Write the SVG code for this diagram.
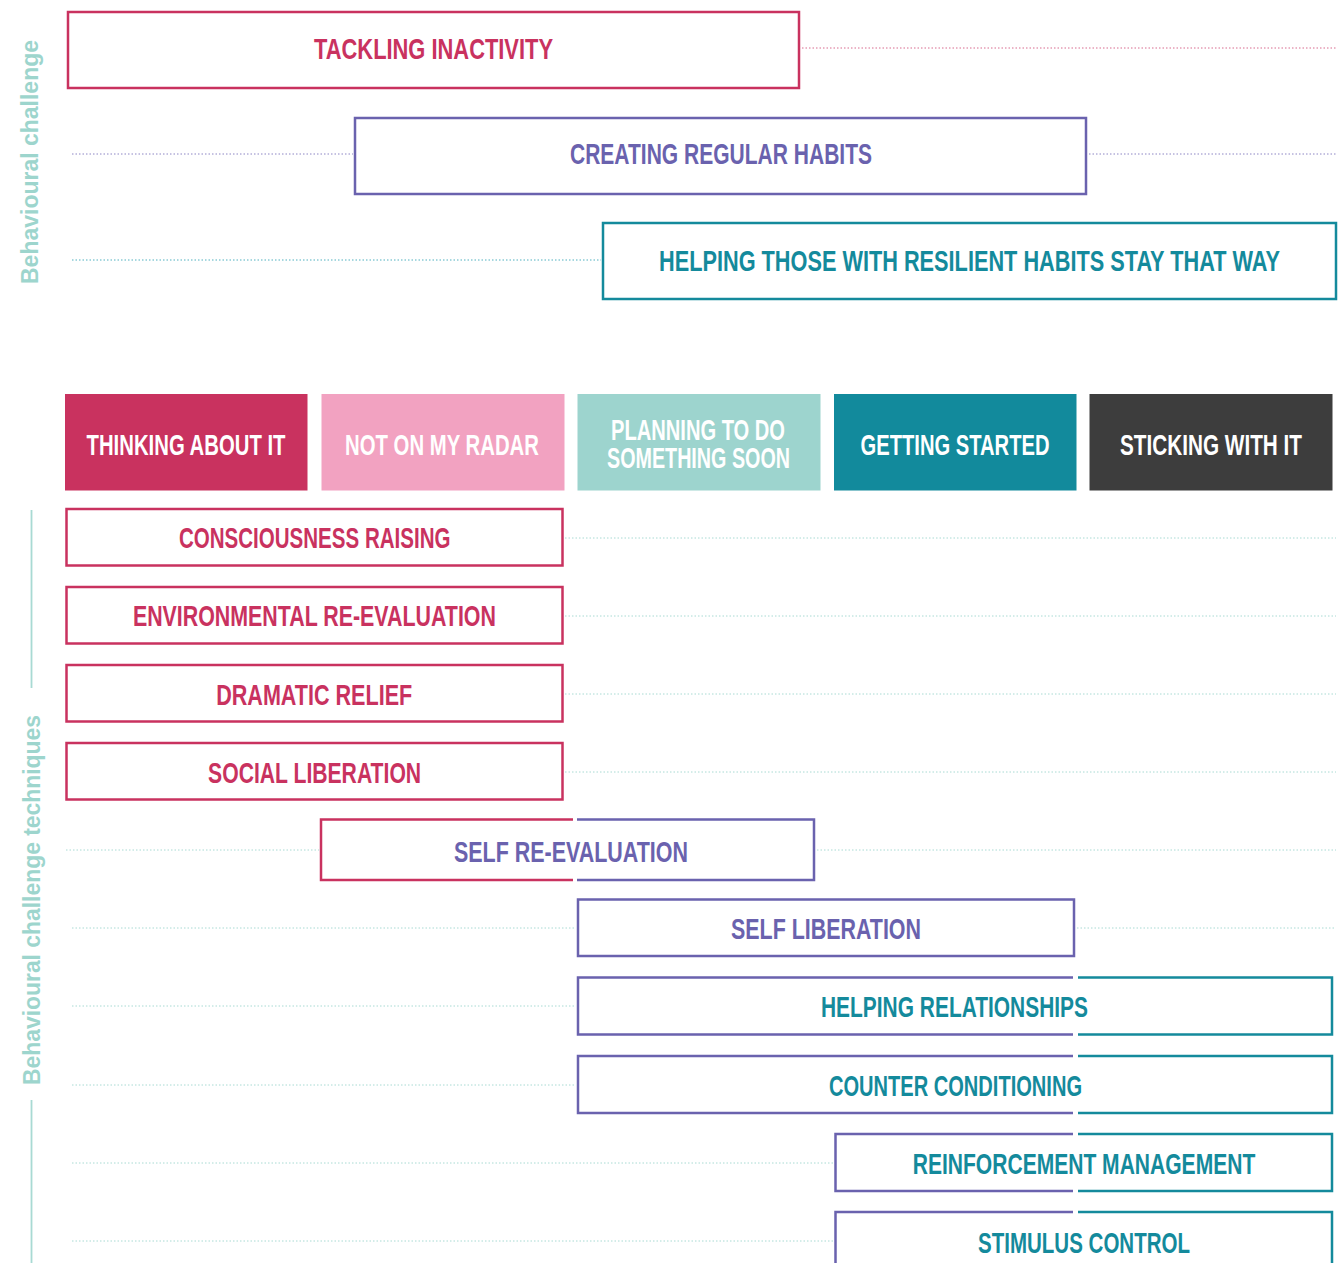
<svg xmlns="http://www.w3.org/2000/svg" width="1341" height="1263" viewBox="0 0 1341 1263">
<style>
.t{font-family:"Liberation Sans",Arial,sans-serif;font-weight:bold;font-size:30px;text-anchor:middle}
.side{font-family:"Liberation Sans",Arial,sans-serif;font-weight:bold;font-size:23px;fill:#9DD5CD;text-anchor:middle}
.box{fill:#fff;stroke-width:2.5}
.pk{stroke:#C9325F}.pu{stroke:#6A62AE}.te{stroke:#148A9C}
.fpk{fill:#C9325F}.fpu{fill:#6A62AE}.fte{fill:#148A9C}.fw{fill:#fff}
.e{fill:none;stroke-width:2.5}
.dot{fill:none;stroke-width:1;stroke-dasharray:1.5 2}
.dl{stroke:#A8DAD3}
</style>
<rect width="1341" height="1263" fill="#fff"/>

<g id="connectors">
<line class="dot" stroke="#D86A8E" x1="802" y1="48" x2="1336" y2="48"/>
<line class="dot" stroke="#8C85C4" x1="72" y1="154" x2="353" y2="154"/>
<line class="dot" stroke="#8C85C4" x1="1089" y1="154" x2="1336" y2="154"/>
<line class="dot" stroke="#4FB0BF" x1="72" y1="260" x2="601" y2="260"/>
<line class="dot dl" x1="565" y1="538" x2="1336" y2="538"/>
<line class="dot dl" x1="565" y1="616" x2="1336" y2="616"/>
<line class="dot dl" x1="565" y1="694" x2="1336" y2="694"/>
<line class="dot dl" x1="565" y1="772" x2="1336" y2="772"/>
<line class="dot dl" x1="66" y1="850" x2="319" y2="850"/>
<line class="dot dl" x1="817" y1="850" x2="1336" y2="850"/>
<line class="dot dl" x1="72" y1="928" x2="576" y2="928"/>
<line class="dot dl" x1="1077" y1="928" x2="1336" y2="928"/>
<line class="dot dl" x1="72" y1="1006" x2="576" y2="1006"/>
<line class="dot dl" x1="72" y1="1085" x2="576" y2="1085"/>
<line class="dot dl" x1="72" y1="1163" x2="834" y2="1163"/>
<line class="dot dl" x1="72" y1="1241" x2="834" y2="1241"/>
<line stroke="#A8DAD3" stroke-width="1.8" x1="31.5" y1="510" x2="31.5" y2="688"/>
<line stroke="#A8DAD3" stroke-width="1.8" x1="31.5" y1="1100" x2="31.5" y2="1263"/>
</g>

<g id="label-challenge">
<text class="side" transform="translate(38,162) rotate(-90)" textLength="244" lengthAdjust="spacingAndGlyphs">Behavioural challenge</text>
</g>
<g id="label-techniques">
<text class="side" transform="translate(40,900) rotate(-90)" textLength="370" lengthAdjust="spacingAndGlyphs">Behavioural challenge techniques</text>
</g>

<g id="tackling-inactivity">
<rect class="box pk" x="68" y="12" width="731" height="76"/>
<text class="t fpk" x="433.5" y="58.5" textLength="239" lengthAdjust="spacingAndGlyphs">TACKLING INACTIVITY</text>
</g>
<g id="creating-regular-habits">
<rect class="box pu" x="355" y="118" width="731" height="76"/>
<text class="t fpu" x="721" y="164" textLength="302" lengthAdjust="spacingAndGlyphs">CREATING REGULAR HABITS</text>
</g>
<g id="helping-resilient">
<rect class="box te" x="603" y="223" width="733" height="76"/>
<text class="t fte" x="969.5" y="271" textLength="621" lengthAdjust="spacingAndGlyphs">HELPING THOSE WITH RESILIENT HABITS STAY THAT WAY</text>
</g>

<g id="stage-thinking">
<rect x="65" y="394" width="242.5" height="96.5" fill="#C9325F"/>
<text class="t fw" x="186" y="455" textLength="199" lengthAdjust="spacingAndGlyphs">THINKING ABOUT IT</text>
</g>
<g id="stage-radar">
<rect x="321.5" y="394" width="243" height="96.5" fill="#F2A2C1"/>
<text class="t fw" x="442" y="455" textLength="194" lengthAdjust="spacingAndGlyphs">NOT ON MY RADAR</text>
</g>
<g id="stage-planning">
<rect x="577.5" y="394" width="243" height="96.5" fill="#9DD4CE"/>
<text class="t fw" x="698" y="439.5" textLength="174" lengthAdjust="spacingAndGlyphs">PLANNING TO DO</text>
<text class="t fw" x="698.5" y="467.5" textLength="183" lengthAdjust="spacingAndGlyphs">SOMETHING SOON</text>
</g>
<g id="stage-started">
<rect x="834" y="394" width="242.5" height="96.5" fill="#128A9C"/>
<text class="t fw" x="955" y="454.5" textLength="189" lengthAdjust="spacingAndGlyphs">GETTING STARTED</text>
</g>
<g id="stage-sticking">
<rect x="1089.5" y="394" width="243" height="96.5" fill="#3D3D3D"/>
<text class="t fw" x="1211" y="454.5" textLength="182" lengthAdjust="spacingAndGlyphs">STICKING WITH IT</text>
</g>

<g id="consciousness-raising">
<rect class="box pk" x="66.5" y="509" width="496" height="56.5"/>
<text class="t fpk" x="314.7" y="548" textLength="271.5" lengthAdjust="spacingAndGlyphs">CONSCIOUSNESS RAISING</text>
</g>
<g id="environmental-re-evaluation">
<rect class="box pk" x="66.5" y="587" width="496" height="56.5"/>
<text class="t fpk" x="314.4" y="626" textLength="363" lengthAdjust="spacingAndGlyphs">ENVIRONMENTAL RE-EVALUATION</text>
</g>
<g id="dramatic-relief">
<rect class="box pk" x="66.5" y="665" width="496" height="56.5"/>
<text class="t fpk" x="314.2" y="705" textLength="196" lengthAdjust="spacingAndGlyphs">DRAMATIC RELIEF</text>
</g>
<g id="social-liberation">
<rect class="box pk" x="66.5" y="743" width="496" height="56.5"/>
<text class="t fpk" x="314.6" y="783" textLength="213" lengthAdjust="spacingAndGlyphs">SOCIAL LIBERATION</text>
</g>
<g id="self-re-evaluation">
<rect x="321" y="819.5" width="493" height="60.5" fill="#fff"/>
<path class="e pk" d="M573,819.5 H321 V880 H573"/>
<path class="e pu" d="M577,819.5 H814 V880 H577"/>
<text class="t fpu" x="571" y="862" textLength="234" lengthAdjust="spacingAndGlyphs">SELF RE-EVALUATION</text>
</g>
<g id="self-liberation">
<rect class="box pu" x="578" y="899.5" width="496" height="56.5"/>
<text class="t fpu" x="826" y="939" textLength="190" lengthAdjust="spacingAndGlyphs">SELF LIBERATION</text>
</g>
<g id="helping-relationships">
<rect x="578" y="977.5" width="754" height="57" fill="#fff"/>
<path class="e pu" d="M1073,977.5 H578 V1034.5 H1073"/>
<path class="e te" d="M1078,977.5 H1332 V1034.5 H1078"/>
<text class="t fte" x="954.5" y="1017" textLength="267" lengthAdjust="spacingAndGlyphs">HELPING RELATIONSHIPS</text>
</g>
<g id="counter-conditioning">
<rect x="578" y="1056" width="754" height="57" fill="#fff"/>
<path class="e pu" d="M1073,1056 H578 V1113 H1073"/>
<path class="e te" d="M1078,1056 H1332 V1113 H1078"/>
<text class="t fte" x="955.5" y="1096" textLength="253" lengthAdjust="spacingAndGlyphs">COUNTER CONDITIONING</text>
</g>
<g id="reinforcement-management">
<rect x="835.5" y="1134" width="496.5" height="57" fill="#fff"/>
<path class="e pu" d="M1073,1134 H835.5 V1191 H1073"/>
<path class="e te" d="M1078,1134 H1332 V1191 H1078"/>
<text class="t fte" x="1084" y="1174" textLength="342.5" lengthAdjust="spacingAndGlyphs">REINFORCEMENT MANAGEMENT</text>
</g>
<g id="stimulus-control">
<rect x="835.5" y="1212" width="496.5" height="57" fill="#fff"/>
<path class="e pu" d="M1073,1212 H835.5 V1269 H1073"/>
<path class="e te" d="M1078,1212 H1332 V1269 H1078"/>
<text class="t fte" x="1084" y="1253" textLength="212" lengthAdjust="spacingAndGlyphs">STIMULUS CONTROL</text>
</g>
</svg>
